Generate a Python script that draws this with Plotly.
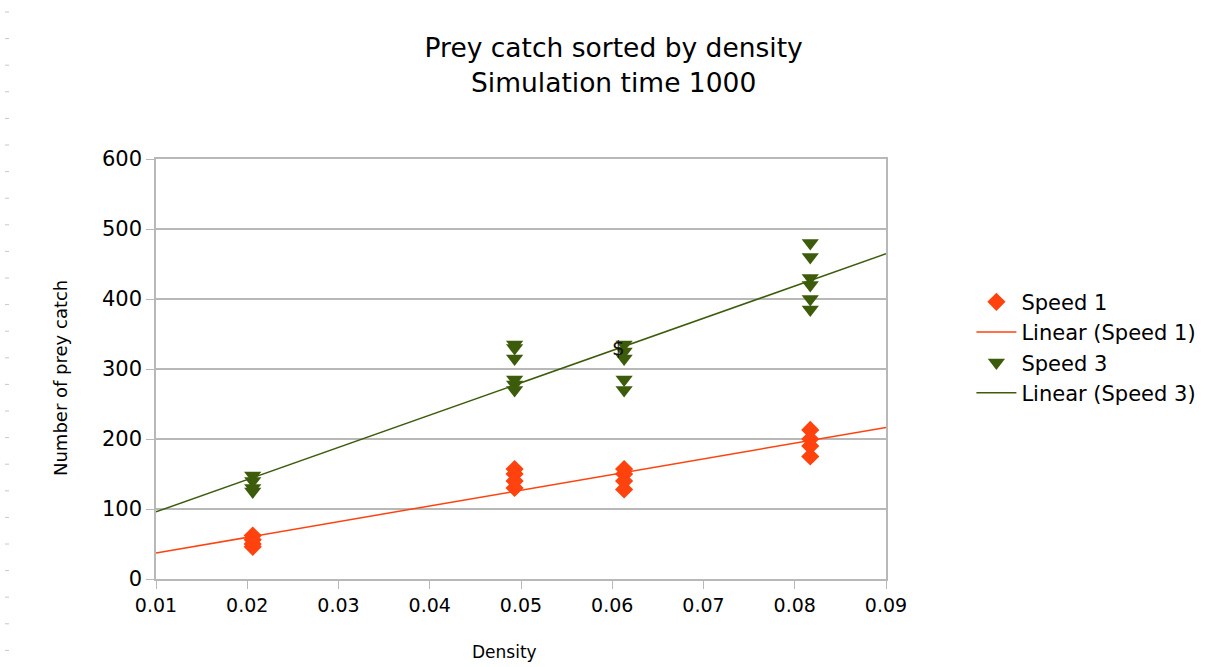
import numpy as np
import plotly.graph_objects as go

# ---- data ----
density_s1 = [0.0206]*4 + [0.0493]*4 + [0.0613]*4 + [0.0817]*4
catch_s1 = [62, 56, 50, 46,
            157, 150, 140, 130,
            157, 150, 140, 128,
            213, 200, 190, 175]

density_s3 = [0.0206]*4 + [0.0493]*6 + [0.0613]*5 + [0.0817]*6
catch_s3 = [148, 140, 130, 125,
            335, 330, 315, 285, 278, 270,
            335, 325, 315, 285, 270,
            480, 460, 430, 420, 400, 385]

x_range = [0.01, 0.09]
x_ticks = [0.01, 0.02, 0.03, 0.04, 0.05, 0.06, 0.07, 0.08, 0.09]
y_ticks = [0, 100, 200, 300, 400, 500, 600]

title_text = "Prey catch sorted by density<br>Simulation time 1000"
x_title = "Density"
y_title = "Number of prey catch"

col1 = "#ff420e"
col3 = "#3d5c0b"
FONT = "DejaVu Sans"

# linear trendlines (least squares)
def trend(xs, ys):
    m, b = np.polyfit(xs, ys, 1)
    xx = np.array(x_range)
    return xx, m * xx + b

tx1, ty1 = trend(density_s1, catch_s1)
tx3, ty3 = trend(density_s3, catch_s3)

fig = go.Figure()
fig.add_trace(go.Scatter(x=density_s1, y=catch_s1, mode="markers", name="Speed 1",
                         marker=dict(symbol="diamond", size=14, color=col1)))
fig.add_trace(go.Scatter(x=tx1, y=ty1, mode="lines", name="Linear (Speed 1)",
                         line=dict(color=col1, width=1.5)))
fig.add_trace(go.Scatter(x=density_s3, y=catch_s3, mode="markers", name="Speed 3",
                         marker=dict(symbol="triangle-down", size=15, color=col3)))
fig.add_trace(go.Scatter(x=tx3, y=ty3, mode="lines", name="Linear (Speed 3)",
                         line=dict(color=col3, width=1.5)))

fig.add_annotation(x=0.0607, y=330, text="$", showarrow=False,
                   font=dict(family=FONT, size=20, color="#111111"))

# axis titles placed as in the original
fig.add_annotation(xref="paper", yref="paper", x=(504 - 156) / 730, y=(579 - 652) / 420,
                   xanchor="center", yanchor="middle", text=x_title, showarrow=False,
                   font=dict(family=FONT, size=17, color="#000000"))
fig.add_annotation(xref="paper", yref="paper", x=(60 - 156) / 730, y=(579 - 378) / 420,
                   xanchor="center", yanchor="middle", text=y_title, showarrow=False,
                   textangle=-90,
                   font=dict(family=FONT, size=18, color="#000000"))

# decorative dashes at the left edge of the screenshot
shapes = []
p = 12.0
while p < 667:
    yp = (579 - p) / 420
    shapes.append(dict(type="line", xref="paper", yref="paper",
                       x0=(5 - 156) / 730, x1=(9 - 156) / 730, y0=yp, y1=yp,
                       line=dict(color="#c8c8c8", width=1)))
    p += 26.6

fig.update_layout(
    width=1220, height=667,
    paper_bgcolor="white", plot_bgcolor="white",
    margin=dict(l=156, r=334, t=159, b=88),
    font=dict(family=FONT, color="#000000"),
    title=dict(text=title_text, x=0.503, xanchor="center", y=0.914, yanchor="top",
               font=dict(family=FONT, size=26.5, color="#000000")),
    legend=dict(x=1.117, y=0.708, xanchor="left", yanchor="top",
                font=dict(family=FONT, size=21, color="#000000"),
                bgcolor="rgba(0,0,0,0)", itemwidth=40),
    shapes=shapes,
)
fig.update_xaxes(range=x_range, tickvals=x_ticks, tickformat=".2f",
                 showgrid=False, zeroline=False,
                 showline=True, linecolor="#b8b8b8", linewidth=1.5, mirror=True,
                 ticks="outside", ticklen=8, tickcolor="#b8b8b8",
                 tickfont=dict(family=FONT, size=19, color="#000000"))
fig.update_yaxes(range=[0, 600], tickvals=y_ticks,
                 showgrid=True, gridcolor="#b8b8b8", gridwidth=1.5, zeroline=False,
                 showline=True, linecolor="#b8b8b8", linewidth=1.5, mirror=True,
                 ticks="outside", ticklen=8, tickcolor="#b8b8b8",
                 tickfont=dict(family=FONT, size=21, color="#000000"))

fig.write_html("out.html", config={"displayModeBar": False},
               post_script="document.body.style.margin='0px';")
